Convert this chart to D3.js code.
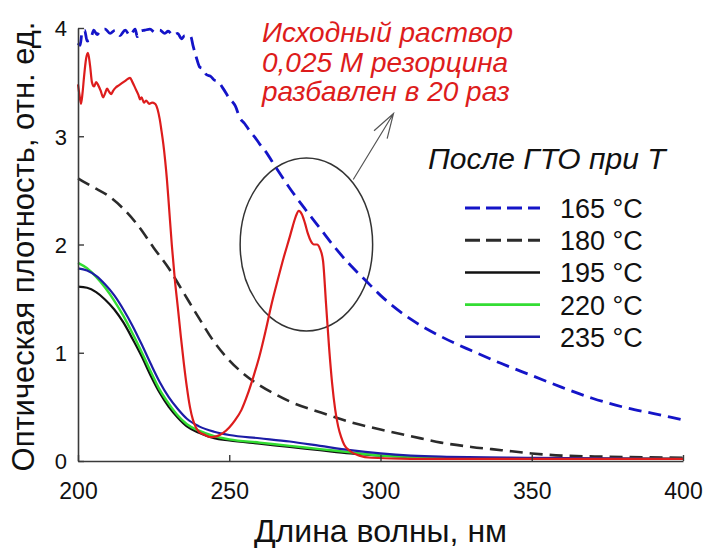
<!DOCTYPE html>
<html>
<head>
<meta charset="utf-8">
<script src="https://cdn.jsdelivr.net/npm/d3@7/dist/d3.min.js"></script>
<style>
    html, body { margin: 0; padding: 0; background: #ffffff; }
    svg { display: block; font-family: "Liberation Sans", Arial, sans-serif; }
</style>
</head>
<body>
<div id="chart"></div>
<script>
    "use strict";

    // wavelength (nm), optical density
    const t165 = [[200,3.86],[200.7,3.84],[201.4,3.97],[202.2,3.98],[203,3.88],[204.1,3.89],[205.2,3.98],[206.3,3.94],[207.3,3.97],[209,3.99],[210.6,3.95],[212.3,3.98],[213.9,3.93],[215.6,3.98],[217.2,3.93],[218.9,3.99],[219.6,3.92],[220.5,3.97],[222.1,3.98],[223.8,3.99],[225.4,3.96],[227,3.98],[228.7,3.95],[229.8,3.97],[231.5,3.93],[233,3.95],[234.2,3.9],[235.3,3.93],[236.4,3.93],[237.3,3.92],[238,3.84],[239.1,3.73],[240.2,3.64],[241.5,3.62],[242.4,3.57],[244,3.55],[245,3.52],[246.5,3.5],[248,3.44],[250,3.35],[252,3.28],[253.5,3.17],[255,3.12],[257,3.04],[258.5,2.99],[260,2.93],[262,2.86],[265,2.73],[270,2.52],[275,2.33],[280,2.15],[285,1.97],[290,1.81],[295,1.67],[300,1.53],[310,1.31],[320,1.15],[330,1.02],[340,0.9],[350,0.79],[360,0.68],[370,0.58],[380,0.5],[390,0.44],[400,0.38]];
    const t180 = [[200,2.61],[205,2.53],[210,2.45],[215,2.33],[220,2.17],[225,1.97],[230,1.78],[235,1.55],[240,1.32],[245,1.1],[250,0.93],[255,0.8],[260,0.7],[265,0.62],[270,0.55],[280,0.45],[290,0.36],[300,0.29],[310,0.23],[320,0.17],[330,0.13],[340,0.1],[350,0.07],[360,0.05],[375,0.04],[400,0.03]];
    const t195 = [[200,1.61],[203,1.6],[206,1.56],[209,1.49],[212,1.4],[215,1.28],[218,1.13],[221,0.97],[224,0.79],[227,0.63],[230,0.5],[233,0.4],[236,0.32],[240,0.26],[245,0.21],[250,0.19],[260,0.16],[270,0.13],[280,0.1],[290,0.07],[300,0.05],[320,0.03],[350,0.02],[400,0.02]];
    const t220 = [[200,1.83],[203,1.78],[206,1.7],[209,1.6],[212,1.48],[215,1.34],[218,1.18],[221,1.01],[224,0.83],[227,0.66],[230,0.53],[233,0.42],[236,0.34],[240,0.28],[245,0.23],[250,0.2],[260,0.17],[270,0.14],[280,0.11],[290,0.08],[300,0.05],[320,0.03],[350,0.02],[400,0.02]];
    const t235 = [[200,1.78],[203,1.76],[206,1.71],[209,1.63],[212,1.53],[215,1.4],[218,1.25],[221,1.08],[224,0.9],[227,0.73],[230,0.59],[233,0.48],[236,0.39],[240,0.32],[245,0.27],[250,0.24],[260,0.21],[270,0.18],[280,0.14],[290,0.1],[300,0.07],[310,0.05],[320,0.04],[350,0.03],[400,0.02]];
    const source = [[200,3.48],[200.5,3.38],[201,3.3],[201.5,3.4],[202,3.55],[202.7,3.72],[203.3,3.77],[204,3.65],[204.6,3.5],[205.3,3.46],[206,3.5],[206.7,3.47],[207.5,3.42],[208.3,3.36],[209,3.4],[209.6,3.44],[210.3,3.41],[211,3.39],[211.6,3.42],[212.5,3.45],[213.5,3.47],[214.5,3.49],[215.5,3.51],[216.5,3.53],[217.2,3.54],[218,3.5],[219,3.44],[220,3.38],[220.5,3.34],[221,3.36],[221.8,3.31],[222.5,3.33],[223.5,3.3],[224.5,3.31],[225.5,3.3],[226.3,3.25],[227,3.16],[227.6,3.05],[228.2,2.93],[228.8,2.78],[229.4,2.6],[230,2.38],[231,2],[232,1.68],[233,1.42],[234,1.15],[235,0.9],[236,0.68],[237,0.5],[238,0.38],[239,0.31],[240,0.27],[242,0.24],[244,0.22],[246,0.23],[248,0.26],[250,0.31],[252,0.38],[254,0.47],[256,0.61],[258,0.78],[260,0.97],[262,1.2],[264,1.45],[266,1.67],[268,1.88],[270,2.07],[271,2.17],[272,2.26],[273,2.31],[274,2.28],[275,2.2],[276,2.1],[277,2.03],[278,2],[279,2],[280,1.96],[281,1.85],[282,1.45],[283,1.05],[284,0.72],[285,0.48],[286,0.32],[287,0.22],[288,0.15],[290,0.09],[293,0.05],[297,0.03],[310,0.02],[400,0.02]];

    const xTicks = [200, 250, 300, 350, 400];
    const yTicks = [0, 1, 2, 3, 4];
    const legendTitle = "После ГТО при Т";
    const legendLabels = ["165 °C", "180 °C", "195 °C", "220 °C", "235 °C"];
    const noteLines = ["Исходный раствор", "0,025 M резорцина", "разбавлен в 20 раз"];

    const width = 705;
    const height = 548;
    const margin = { top: 28, right: 22, bottom: 87, left: 78 };

    const series = [
        { data: t180, color: "#2b2b2b", width: 2.6, dash: "13,7" },
        { data: t165, color: "#1414c8", width: 2.8, dash: "13,7" },
        { data: t195, color: "#111111", width: 2.2, dash: null },
        { data: t220, color: "#33dd33", width: 2.4, dash: null },
        { data: t235, color: "#1c1ca6", width: 2.2, dash: null },
        { data: source, color: "#dd1c1c", width: 2.2, dash: null }
    ];
    const legendSeries = [series[1], series[0], series[2], series[3], series[4]];

    const x = d3.scaleLinear().domain([200, 400]).range([margin.left, width - margin.right]);
    const y = d3.scaleLinear().domain([0, 4]).range([height - margin.bottom, margin.top]);

    const svg = d3.select("#chart")
        .append("svg")
        .attr("width", width)
        .attr("height", height)
        .attr("viewBox", [0, 0, width, height]);

    svg.append("rect").attr("width", width).attr("height", height).attr("fill", "#ffffff");

    const line = d3.line()
        .x((d) => x(d[0]))
        .y((d) => y(d[1]))
        .curve(d3.curveMonotoneX);

    // circle around the peak + arrow to the note
    const cx = x(275.5);
    const cy = y(2.0);
    svg.append("ellipse")
        .attr("cx", cx)
        .attr("cy", cy)
        .attr("rx", x(275.5 + 21.9) - cx)
        .attr("ry", cy - y(2.8))
        .attr("fill", "none")
        .attr("stroke", "#333333")
        .attr("stroke-width", 1.5);

    series.forEach((s) => {
        svg.append("path")
            .datum(s.data)
            .attr("fill", "none")
            .attr("stroke", s.color)
            .attr("stroke-width", s.width)
            .attr("stroke-dasharray", s.dash)
            .attr("stroke-linejoin", "round")
            .attr("d", line);
    });

    const tail = [x(291), y(2.6)];
    const tip = [x(304.3), y(3.21)];
    const ang = Math.atan2(tail[1] - tip[1], tail[0] - tip[0]);
    const arm = 26;
    const spread = 0.3;
    svg.append("path")
        .attr("d", `M${tail[0]},${tail[1]}L${tip[0]},${tip[1]}` +
            `M${tip[0] + arm * Math.cos(ang - spread)},${tip[1] + arm * Math.sin(ang - spread)}` +
            `L${tip[0]},${tip[1]}` +
            `L${tip[0] + arm * Math.cos(ang + spread)},${tip[1] + arm * Math.sin(ang + spread)}`)
        .attr("fill", "none")
        .attr("stroke", "#555555")
        .attr("stroke-width", 1.2);

    // axes: only left and bottom, ticks pointing in
    const axisColor = "#3a3a3a";
    const xAxis = svg.append("g")
        .attr("transform", `translate(0,${y(0)})`)
        .call(d3.axisBottom(x).tickValues(xTicks).tickSize(-6).tickSizeOuter(0).tickFormat(d3.format("d")));
    xAxis.select(".domain").attr("stroke", axisColor).attr("stroke-width", 1.6);
    xAxis.selectAll(".tick line").attr("stroke", axisColor).attr("stroke-width", 1.4);
    xAxis.selectAll(".tick text")
        .attr("y", 38)
        .attr("dy", 0)
        .attr("fill", "#111111")
        .style("font-size", "23px")
        .style("font-family", "\"Liberation Sans\", Arial, sans-serif");

    const yAxis = svg.append("g")
        .attr("transform", `translate(${x(200)},0)`)
        .call(d3.axisLeft(y).tickValues(yTicks).tickSize(-6).tickSizeOuter(0).tickFormat(d3.format("d")));
    yAxis.select(".domain").attr("stroke", axisColor).attr("stroke-width", 1.6);
    yAxis.selectAll(".tick line").attr("stroke", axisColor).attr("stroke-width", 1.4);
    yAxis.selectAll(".tick text")
        .attr("x", -11)
        .attr("dy", "0.36em")
        .attr("fill", "#111111")
        .style("font-size", "22px")
        .style("font-family", "\"Liberation Sans\", Arial, sans-serif");

    svg.append("text")
        .attr("x", (x(200) + x(400)) / 2)
        .attr("y", 542)
        .attr("text-anchor", "middle")
        .attr("fill", "#111111")
        .style("font-size", "32px")
        .text("Длина волны, нм");

    svg.append("text")
        .attr("transform", `translate(34,${(y(0) + y(4)) / 2 + 2}) rotate(-90)`)
        .attr("text-anchor", "middle")
        .attr("fill", "#111111")
        .style("font-size", "31px")
        .text("Оптическая плотность, отн. ед.");

    // red note
    svg.append("g")
        .selectAll("text")
        .data(noteLines)
        .join("text")
        .attr("x", 262)
        .attr("y", (d, i) => 42 + i * 29.5)
        .attr("fill", "#dd1c1c")
        .style("font-size", "28px")
        .style("font-style", "italic")
        .text((d) => d);

    // legend
    svg.append("text")
        .attr("x", 428)
        .attr("y", 169)
        .attr("fill", "#111111")
        .style("font-size", "30px")
        .style("font-style", "italic")
        .text(legendTitle);

    const legend = svg.append("g")
        .selectAll("g")
        .data(legendSeries)
        .join("g")
        .attr("transform", (d, i) => `translate(465,${218 + i * 32.2})`);

    legend.append("line")
        .attr("x1", 0)
        .attr("x2", 75)
        .attr("y1", -10)
        .attr("y2", -10)
        .attr("stroke", (d) => d.color)
        .attr("stroke-width", (d) => d.width + 0.3)
        .attr("stroke-dasharray", (d) => (d.dash ? "15,6" : null));

    legend.append("text")
        .attr("x", 95)
        .attr("y", 0)
        .attr("fill", "#111111")
        .style("font-size", "27px")
        .text((d, i) => legendLabels[i]);
</script>
</body>
</html>
